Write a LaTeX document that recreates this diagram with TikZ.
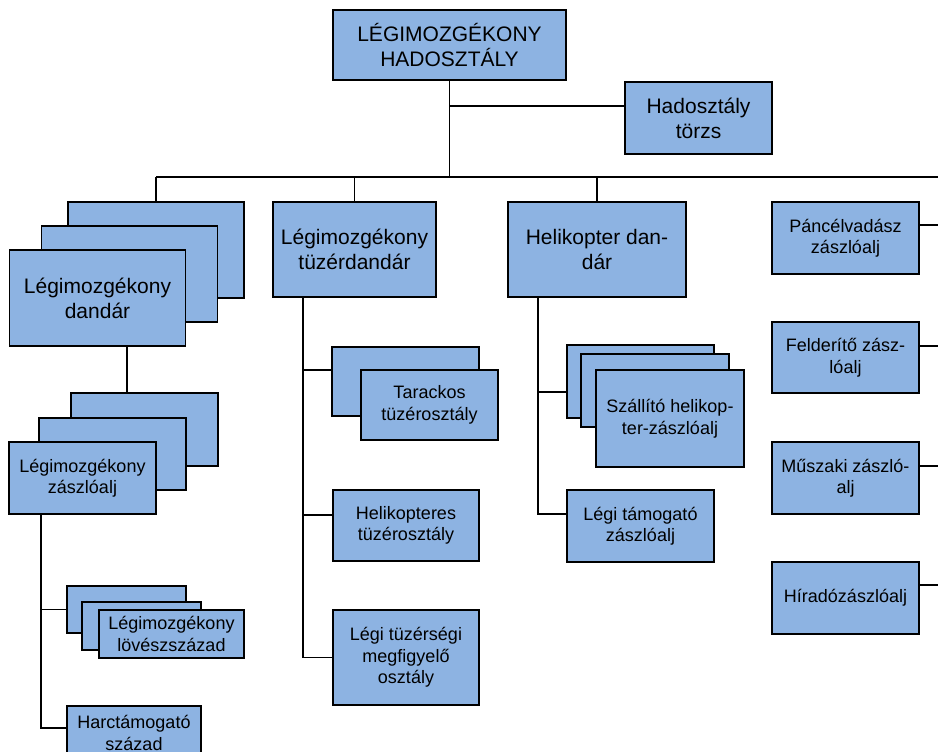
\documentclass[tikz,border=0pt]{standalone}
\usepackage{fontspec}
\setmainfont{Liberation Sans}
\usetikzlibrary{positioning}
\definecolor{unitblue}{HTML}{8DB3E2}

\begin{document}
\begin{tikzpicture}[x=1pt, y=-1pt,
    unit/.style={draw, fill=unitblue, line width=1.6pt, align=center, inner sep=0pt},
    big/.style={unit, font=\fontsize{21}{25}\selectfont},
    small/.style={unit, font=\fontsize{18}{21.5}\selectfont},
    link/.style={line width=1.4pt}]
    \useasboundingbox (0,0) rectangle (938,752);

    % top
    \node[big, minimum width=233pt, minimum height=70pt] (hq) at (449.5,45) {LÉGIMOZGÉKONY\\HADOSZTÁLY};
    \node[big, minimum width=147pt, minimum height=72pt] (torzs) at (698.5,118) {Hadosztály\\törzs};
    \coordinate (bus) at (449.5,177);
    \coordinate (busend) at (938,177);
    \coordinate (torzsin) at (449.5,106);

    % first column
    \node[big, minimum width=176pt, minimum height=96pt] (dandar3) at (156,250) {};
    \node[big, minimum width=176pt, minimum height=96pt] (dandar2) at (129.5,274) {};
    \node[big, minimum width=176pt, minimum height=96pt] (dandar) at (97.5,298) {Légimozgékony\\dandár};
    \node[small, minimum width=147pt, minimum height=73pt] (zaszlo3) at (144.5,429.5) {};
    \node[small, minimum width=147pt, minimum height=72pt] (zaszlo2) at (112.5,454) {};
    \node[small, minimum width=147pt, minimum height=72pt] (zaszlo) at (82.5,478) {Légimozgékony\\zászlóalj};
    \node[small, minimum width=119pt, minimum height=47pt] (lovesz3) at (126.5,609.5) {};
    \node[small, minimum width=119pt, minimum height=48pt] (lovesz2) at (141.5,626) {};
    \node[small, minimum width=145pt, minimum height=48pt] (lovesz) at (171.5,634) {Légimozgékony\\lövészszázad};
    \node[small, minimum width=134pt, minimum height=54pt] (harc) at (134,733) {Harctámogató\\század};
    \coordinate (dandarout) at (127,346);
    \coordinate (zaszloout) at (41,514);
    \coordinate (harcin) at (41,728);

    % second column
    \node[big, minimum width=163pt, minimum height=95pt] (tuzer) at (354.5,249.5) {Légimozgékony\\tüzérdandár};
    \node[small, minimum width=147pt, minimum height=69pt] (tarack2) at (405.5,381.5) {};
    \node[small, minimum width=137pt, minimum height=70pt] (tarack) at (429.5,405) {Tarackos\\tüzérosztály};
    \node[small, minimum width=146pt, minimum height=71pt] (helituz) at (406,525.5) {Helikopteres\\tüzérosztály};
    \node[small, minimum width=146pt, minimum height=95pt] (megfig) at (406,657.5) {Légi tüzérségi\\megfigyelő\\osztály};
    \coordinate (tuzerout) at (303,297);
    \coordinate (tarackin) at (303,370);
    \coordinate (helituzin) at (303,515);

    % third column
    \node[big, minimum width=178pt, minimum height=95pt] (heli) at (597,249.5) {Helikopter dan-\\dár};
    \node[small, minimum width=147pt, minimum height=73pt] (szall3) at (640.5,381.5) {};
    \node[small, minimum width=148pt, minimum height=73pt] (szall2) at (655,390.5) {};
    \node[small, minimum width=148pt, minimum height=97pt] (szall) at (670,418.5) {Szállító helikop-\\ter-zászlóalj};
    \node[small, minimum width=147pt, minimum height=72pt] (legitam) at (640.5,526) {Légi támogató\\zászlóalj};
    \coordinate (heliout) at (538,297);
    \coordinate (szallin) at (538,392);
    \coordinate (legitamin) at (538,514);

    % fourth column
    \node[small, minimum width=147pt, minimum height=72pt] (pancel) at (845.5,238) {Páncélvadász\\zászlóalj};
    \node[small, minimum width=147pt, minimum height=71pt] (felder) at (845.5,357.5) {Felderítő zász-\\lóalj};
    \node[small, minimum width=147pt, minimum height=72pt] (muszaki) at (845.5,478) {Műszaki zászló-\\alj};
    \node[small, minimum width=147pt, minimum height=72pt] (hirado) at (845.5,598) {Híradózászlóalj};
    \coordinate (pancelout) at (919,225);
    \coordinate (felderout) at (919,346);
    \coordinate (muszakiout) at (919,466);
    \coordinate (hiradoout) at (919,585);

    \draw[link] (hq.south) -- (bus);
    \draw[link] (torzsin) -- (torzsin -| torzs.west);
    \draw[link] (bus -| dandar3.north) -- (busend);
    \draw[link] (bus -| dandar3.north) -- (dandar3.north);
    \draw[link] (bus -| tuzer.north) -- (tuzer.north);
    \draw[link] (bus -| heli.north) -- (heli.north);

    \draw[link] (dandarout) -- (dandarout |- zaszlo3.north);
    \draw[link] (zaszloout) |- (lovesz3.west);
    \draw[link] (zaszloout) -- (harcin) -- (harcin -| harc.west);

    \draw[link] (tuzerout) |- (megfig.west);
    \draw[link] (tarackin) -- (tarackin -| tarack2.west);
    \draw[link] (helituzin) -- (helituzin -| helituz.west);

    \draw[link] (heliout) -- (legitamin) -- (legitamin -| legitam.west);
    \draw[link] (szallin) -- (szallin -| szall3.west);

    \draw[link] (pancelout) -- (pancelout -| busend);
    \draw[link] (felderout) -- (felderout -| busend);
    \draw[link] (muszakiout) -- (muszakiout -| busend);
    \draw[link] (hiradoout) -- (hiradoout -| busend);
\end{tikzpicture}
\end{document}
